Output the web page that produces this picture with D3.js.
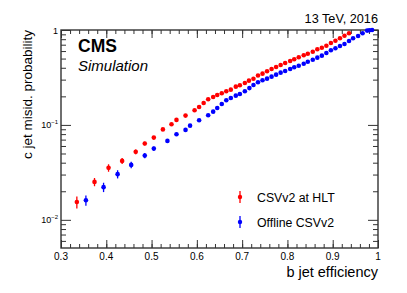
<!DOCTYPE html>
<html>
<head>
<meta charset="utf-8">
<title>c jet misid</title>
<script src="https://d3js.org/d3.v7.min.js"></script>
<style>
  body { margin: 0; background: #fff; }
  text { font-family: "Liberation Sans", Arial, Helvetica, sans-serif; fill: #000; }
</style>
</head>
<body>
<div id="chart"></div>
<script>
// CSVv2 at HLT : b jet efficiency vs c jet misid. probability
const effHLT = [0.335, 0.374, 0.405, 0.435, 0.465, 0.485, 0.505, 0.525, 0.544, 0.555,
  0.575, 0.595, 0.605, 0.615, 0.625, 0.636, 0.645, 0.655, 0.665, 0.675,
  0.686, 0.695, 0.706, 0.715, 0.725, 0.735, 0.745, 0.755, 0.765, 0.775,
  0.785, 0.795, 0.806, 0.815, 0.825, 0.836, 0.845, 0.856, 0.866, 0.876,
  0.886, 0.896, 0.906, 0.916, 0.926, 0.936];
const misHLT = [0.0154, 0.0251, 0.0353, 0.0418, 0.0520, 0.0636, 0.0735, 0.0897, 0.1017, 0.1129,
  0.1253, 0.1428, 0.1547, 0.1704, 0.1865, 0.1971, 0.2069, 0.2157, 0.2263, 0.2352,
  0.2530, 0.2618, 0.2768, 0.2926, 0.3064, 0.3311, 0.3467, 0.3674, 0.3885, 0.4078,
  0.4280, 0.4493, 0.4718, 0.4915, 0.5160, 0.5418, 0.5629, 0.5909, 0.6263, 0.6512,
  0.6835, 0.7298, 0.7714, 0.8178, 0.8710, 0.9231];
const errHLT = [0.0022, 0.0025, 0.0032, 0.003, 0.003, 0.003, 0.003, 0.003, 0.003, 0.003];

// Offline CSVv2
const effOff = [0.355, 0.394, 0.425, 0.455, 0.485, 0.505, 0.535, 0.555, 0.575, 0.585,
  0.605, 0.625, 0.636, 0.645, 0.655, 0.665, 0.675, 0.686, 0.695, 0.706,
  0.716, 0.725, 0.735, 0.745, 0.755, 0.765, 0.775, 0.785, 0.795, 0.806,
  0.815, 0.825, 0.836, 0.845, 0.856, 0.866, 0.876, 0.886, 0.896, 0.906,
  0.916, 0.926, 0.936, 0.945, 0.956, 0.966, 0.976, 0.981, 0.987];
const misOff = [0.0161, 0.0221, 0.0303, 0.0379, 0.0475, 0.0563, 0.0679, 0.0798, 0.0886, 0.0983,
  0.1121, 0.1265, 0.1380, 0.1510, 0.1663, 0.1820, 0.1924, 0.2034, 0.2120, 0.2263,
  0.2443, 0.2636, 0.2814, 0.2954, 0.3072, 0.3225, 0.3384, 0.3552, 0.3702, 0.3885,
  0.4049, 0.4208, 0.4417, 0.4637, 0.4868, 0.5112, 0.5365, 0.5727, 0.6113, 0.6418,
  0.6787, 0.7121, 0.7660, 0.8178, 0.8646, 0.9231, 0.985, 0.995, 1.0];
const errOff = [0.002, 0.0025, 0.003, 0.003, 0.003, 0.003, 0.003, 0.003];

const xTicks = [0.3, 0.4, 0.5, 0.6, 0.7, 0.8, 0.9, 1];
const xTickLabels = ["0.3", "0.4", "0.5", "0.6", "0.7", "0.8", "0.9", "1"];
const yTicks = [0.01, 0.1, 1];
const yTickLabels = [["10", "\u22122"], ["10", "\u22121"], ["1", ""]];

const seriesNames = ["CSVv2 at HLT", "Offline CSVv2"];
const seriesColors = ["#ff0000", "#0000ff"];

const W = 407, H = 293;
const margin = { top: 30, right: 29, bottom: 45, left: 61 };
const width = W - margin.left - margin.right,
      height = H - margin.top - margin.bottom;

const svg = d3.select("#chart").append("svg")
  .attr("width", W).attr("height", H);
const g = svg.append("g")
  .attr("transform", `translate(${margin.left},${margin.top})`);

const x = d3.scaleLinear().domain([0.3, 1]).range([0, width]);
const y = d3.scaleLog().domain([0.00505, 1]).range([height, 0]);

const axisColor = "#333";
const minorX = d3.range(30, 101, 2).map(v => v / 100);
const minorY = y.ticks().filter(v => yTicks.indexOf(v) < 0);

function styleAxis(sel) {
  sel.select(".domain").remove();
  sel.selectAll(".tick line").attr("stroke", axisColor).attr("stroke-width", 1);
  sel.selectAll(".tick text").remove();
}

// x axes (bottom + top), ticks inside
g.append("g").attr("transform", `translate(0,${height})`)
  .call(d3.axisBottom(x).tickValues(minorX).tickSize(-4).tickFormat("")).call(styleAxis);
g.append("g").attr("transform", `translate(0,${height})`)
  .call(d3.axisBottom(x).tickValues(xTicks).tickSize(-8).tickFormat("")).call(styleAxis);
g.append("g")
  .call(d3.axisTop(x).tickValues(minorX).tickSize(-4).tickFormat("")).call(styleAxis);
g.append("g")
  .call(d3.axisTop(x).tickValues(xTicks).tickSize(-8).tickFormat("")).call(styleAxis);

// y axes (left + right)
g.append("g")
  .call(d3.axisLeft(y).tickValues(minorY).tickSize(-5).tickFormat("")).call(styleAxis);
g.append("g")
  .call(d3.axisLeft(y).tickValues(yTicks).tickSize(-10).tickFormat("")).call(styleAxis);
g.append("g").attr("transform", `translate(${width},0)`)
  .call(d3.axisRight(y).tickValues(minorY).tickSize(-5).tickFormat("")).call(styleAxis);
g.append("g").attr("transform", `translate(${width},0)`)
  .call(d3.axisRight(y).tickValues(yTicks).tickSize(-10).tickFormat("")).call(styleAxis);

// frame
g.append("rect")
  .attr("width", width).attr("height", height)
  .attr("fill", "none").attr("stroke", axisColor).attr("stroke-width", 1.4);

// tick labels
g.selectAll(".xlab").data(xTicks).enter().append("text")
  .attr("x", d => x(d)).attr("y", height + 12)
  .attr("text-anchor", "middle").attr("font-size", 10)
  .text((d, i) => xTickLabels[i]);

yTicks.forEach((v, i) => {
  const t = g.append("text")
    .attr("x", -3).attr("y", y(v) + 3.5)
    .attr("text-anchor", "end").attr("font-size", 9);
  t.append("tspan").text(yTickLabels[i][0]);
  if (yTickLabels[i][1]) {
    t.append("tspan").attr("dy", -4).attr("font-size", 6).text(yTickLabels[i][1]);
  }
});

// axis titles
g.append("text")
  .attr("x", width).attr("y", height + 29)
  .attr("text-anchor", "end").attr("font-size", 14.5)
  .text("b jet efficiency");
g.append("text")
  .attr("transform", `translate(-29,0) rotate(-90)`)
  .attr("text-anchor", "end").attr("font-size", 13.5)
  .text("c jet misid. probability");

g.append("text")
  .attr("x", width).attr("y", -7)
  .attr("text-anchor", "end").attr("font-size", 12.7)
  .text("13 TeV, 2016");
g.append("text")
  .attr("x", 17).attr("y", 22)
  .attr("font-size", 17.5).attr("font-weight", "bold")
  .text("CMS");
g.append("text")
  .attr("x", 17).attr("y", 41)
  .attr("font-size", 15).attr("font-style", "italic")
  .text("Simulation");

// data series
const series = [
  { eff: effHLT, mis: misHLT, err: errHLT },
  { eff: effOff, mis: misOff, err: errOff }
];

series.forEach((s, k) => {
  const pts = s.eff.map((e, i) => ({ e: e, m: s.mis[i], err: s.err[i] || 0 }));
  const sg = g.append("g").attr("fill", seriesColors[k]).attr("stroke", seriesColors[k]);
  sg.selectAll("line").data(pts.filter(d => d.err > 0)).enter().append("line")
    .attr("x1", d => x(d.e)).attr("x2", d => x(d.e))
    .attr("y1", d => y(d.m - d.err)).attr("y2", d => y(Math.min(1, d.m + d.err)))
    .attr("stroke-width", 1.3);
  sg.selectAll("circle").data(pts).enter().append("circle")
    .attr("cx", d => x(d.e)).attr("cy", d => y(d.m))
    .attr("r", 2.3).attr("stroke", "none");
});

// legend
const legend = g.append("g").attr("transform", `translate(${179},${167})`);
seriesNames.forEach((name, i) => {
  const ly = i * 25;
  legend.append("line")
    .attr("x1", 0).attr("x2", 0).attr("y1", ly - 6).attr("y2", ly + 6)
    .attr("stroke", seriesColors[i]).attr("stroke-width", 1.3);
  legend.append("circle")
    .attr("cx", 0).attr("cy", ly).attr("r", 2.2).attr("fill", seriesColors[i]);
  legend.append("text")
    .attr("x", 17).attr("y", ly + 4.5).attr("font-size", 12.3)
    .text(name);
});
</script>
</body>
</html>
